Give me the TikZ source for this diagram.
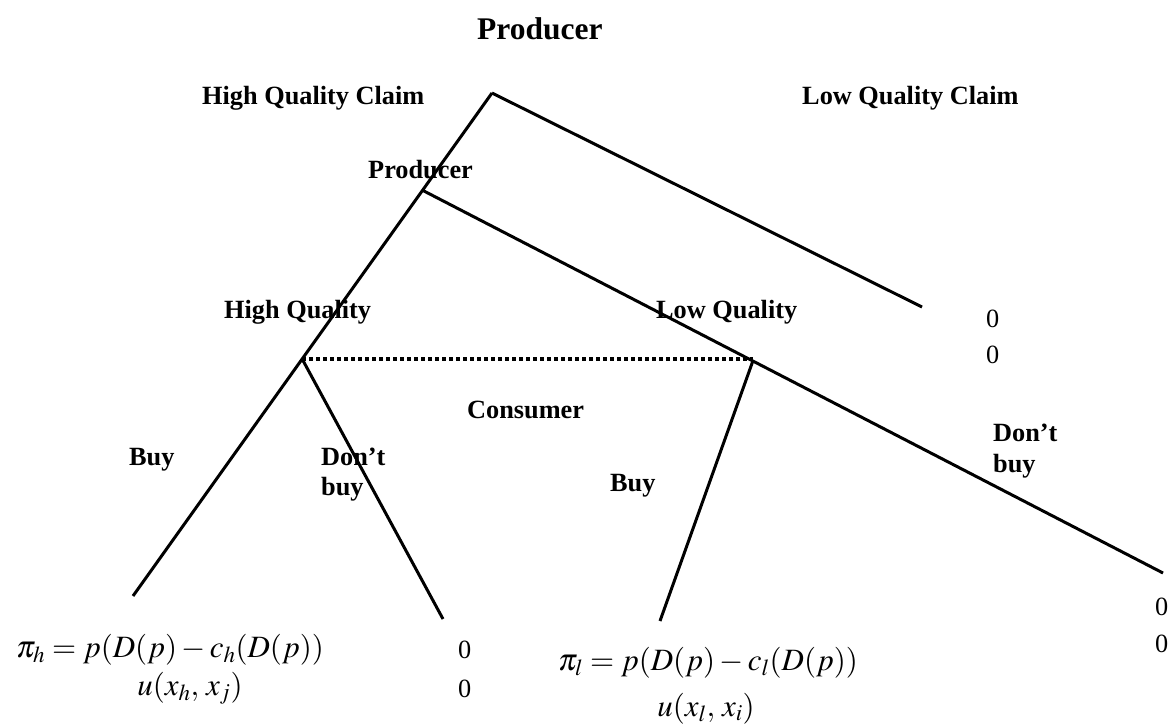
\documentclass[tikz,border=0pt]{standalone}
\usepackage{mathptmx}
\usepackage[no-math]{fontspec}
\setmainfont{Liberation Serif}
\usetikzlibrary{calc}
\begin{document}
\begin{tikzpicture}[x=1pt,y=-1pt,
  branch/.style={line width=3pt},
  infoset/.style={line width=3.5pt, dash pattern=on 3.5pt off 3.5pt},
  lbl/.style={font=\fontsize{26.3}{31}\selectfont\bfseries, inner sep=0pt, anchor=base west},
  title/.style={font=\fontsize{31.5}{36}\selectfont\bfseries, inner sep=0pt, anchor=base west},
  pay/.style={font=\fontsize{26.3}{31}\selectfont, inner sep=0pt, anchor=base west},
  eq/.style={font=\fontsize{31}{34}\selectfont, inner sep=0pt, anchor=base}]
\useasboundingbox (0,0) rectangle (1173,725);

% decision nodes and branch ends
\coordinate (root) at (492,93);
\coordinate (prod) at (422,190);
\coordinate (buyH) at (133,596);
\coordinate (lowclaim) at (922,307);
\coordinate (nobuyL) at (1163,573);
\coordinate (hq) at ($(root)!0.5288!(buyH)$);
\coordinate (lq) at ($(prod)!0.4465!(nobuyL)$);
\coordinate (nobuyH) at (443,619);
\coordinate (buyL) at (660,621);

% branches
\draw[branch] (root) -- (buyH);
\draw[branch] (root) -- (lowclaim);
\draw[branch] (prod) -- (nobuyL);
\draw[branch] (hq) -- (nobuyH);
\draw[branch] (lq) -- (buyL);
\draw[infoset] (hq) -- (hq -| lq);

% labels
\node[title] (t0) at (477,40) {Producer};
\node[lbl] (hqc) at (202,104) {High Quality Claim};
\node[lbl] (lqc) at (802,104) {Low Quality Claim};
\node[lbl] (p2) at (368,178) {Producer};
\node[lbl] (hql) at (224,318) {High Quality};
\node[lbl] (lql) at (656,318) {Low Quality};
\node[lbl] (cons) at (467,418) {Consumer};
\node[lbl] (b1) at (129,465) {Buy};
\node[lbl] (d1a) at (321,465) {Don’t};
\node[lbl] (d1b) at (321,495) {buy};
\node[lbl] (b2) at (610,491) {Buy};
\node[lbl] (d2a) at (993,441) {Don’t};
\node[lbl] (d2b) at (993,472) {buy};

% payoffs
\node[pay] (z1a) at (986,327) {0};
\node[pay] (z1b) at (986,363) {0};
\node[pay] (z2a) at (1155,615) {0};
\node[pay] (z2b) at (1155,652) {0};
\node[pay] (z3a) at (458,658) {0};
\node[pay] (z3b) at (458,697) {0};
\node[eq] (f1a) at (170,657) {$\pi_h = p(D(p) - c_h(D(p))$};
\node[eq] (f1b) at (190,695) {$u(x_h,\,x_j)$};
\node[eq] (f2a) at (708,670) {$\pi_l = p(D(p) - c_l(D(p))$};
\node[eq] (f2b) at (706,716) {$u(x_l,\,x_i)$};
\end{tikzpicture}
\end{document}
